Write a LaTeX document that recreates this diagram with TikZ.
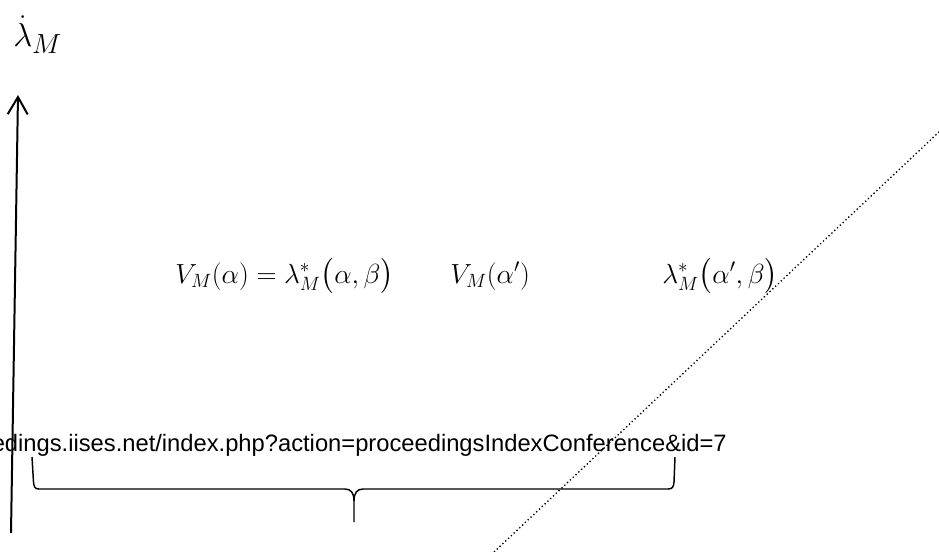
\documentclass[tikz,border=0pt]{standalone}
\usepackage{amsfonts, amssymb, amsmath}
\usepackage{fontspec}
\usepackage{tikz}
\usetikzlibrary{positioning, arrows.meta}
\newfontfamily\urlfont{Liberation Sans}

\tikzset{
    axis/.style={line width=1.5pt, -{Straight Barb[length=13pt, width=15pt, line width=1.5pt]}},
    bracepath/.style={line width=1.1pt, line join=round},
    diag/.style={line width=1pt, dash pattern=on 1pt off 1.9pt},
    formula/.style={anchor=base west, inner sep=0pt, font=\fontsize{22}{27}\selectfont},
    urltext/.style={anchor=base east, inner sep=0pt, font=\urlfont\fontsize{17.8}{21}\selectfont}
}

\begin{document}
\begin{tikzpicture}[x=0.75pt, y=-0.75pt]
        % Define picture size (pixels of the original)
        \def\picw{939}
        \def\pich{551}
        \def\baseline{283}

        \useasboundingbox (0,0) rectangle (\picw,\pich);

        % Draw the vertical axis
        \coordinate (axisbase) at (11,533);
        \coordinate (axistop) at (18,95);
        \draw[axis] (axisbase) -- (axistop);

        % Add label for the axis
        \node[anchor=base west, inner sep=0pt, font=\fontsize{30}{36}\selectfont] (lamdot) at (13,46) {$\dot{\lambda}_M$};

        % Draw the dotted diagonal
        \coordinate (diaglow) at (494,552);
        \coordinate (diaghigh) at (940,131);
        \draw[diag] (diaglow) -- (diaghigh);

        % Add the formulas on one line
        \node[formula] (vmalpha) at (175,\baseline) {$V_M(\alpha) = \lambda^*_M\bigl(\alpha, \beta\bigr)$};
        \node[formula] (vmprime) at (450,\baseline) {$V_M(\alpha')$};
        \node[formula] (lamprime) at (662,\baseline) {$\lambda^*_M\bigl(\alpha', \beta\bigr)$};

        % Add the source line
        \node[urltext] (source) at (727,451) {edings.iises.net/index.php?action=proceedingsIndexConference\&id=7};

        % Draw the brace under the source line
        \coordinate (braceleft) at (32,457);
        \coordinate (braceright) at (675,457);
        \coordinate (bracetip) at (354,522);
        \draw[bracepath] (braceleft) -- (33.5,482) .. controls (34,487) and (35,489) .. (39,489)
            -- (345,489) .. controls (351,489) and (354,493) .. (354,501) -- (bracetip);
        \draw[bracepath] (braceright) -- (674,482) .. controls (673.5,487) and (672.5,489) .. (668,489)
            -- (363,489) .. controls (357,489) and (354,493) .. (354,501);

    \end{tikzpicture}
\end{document}
